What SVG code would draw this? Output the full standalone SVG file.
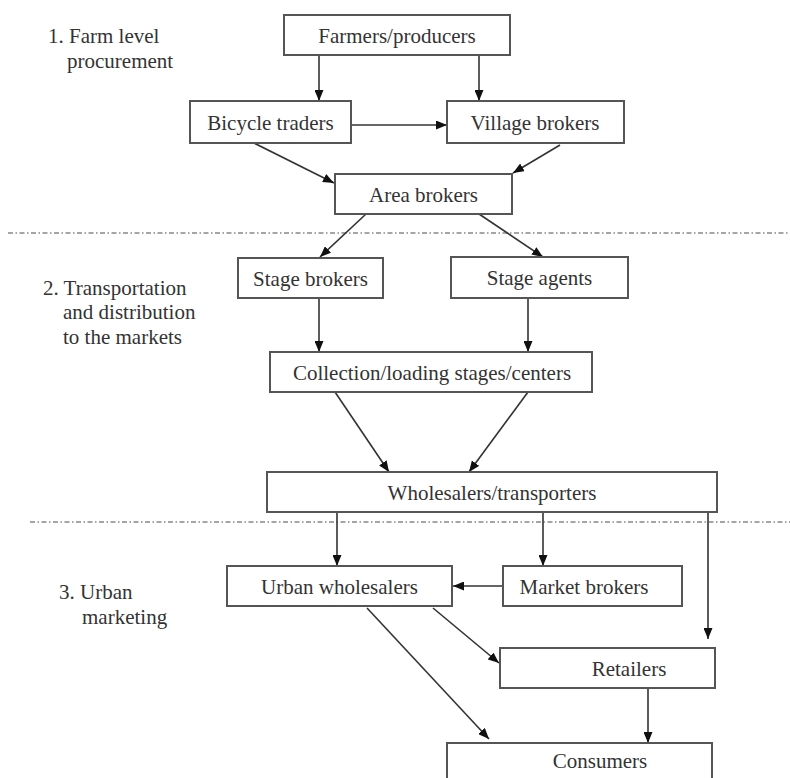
<svg xmlns="http://www.w3.org/2000/svg" width="790" height="778" viewBox="0 0 790 778">
<style>
.box{fill:#fff;stroke:#555;stroke-width:2}
.t{font-family:"Liberation Serif","Times New Roman",Times,"DejaVu Serif",serif;font-size:21px;fill:#333;text-anchor:middle}
.lbl{font-family:"Liberation Serif","Times New Roman",Times,"DejaVu Serif",serif;font-size:21px;fill:#333}
.c{stroke:#333;stroke-width:1.6;fill:none;marker-end:url(#ah)}
.sep{stroke:#888;stroke-width:1.5;stroke-dasharray:5 2.5 1.5 2.5;fill:none}
</style>
<defs>
<marker id="ah" markerWidth="11" markerHeight="9" refX="11" refY="4.5" orient="auto" markerUnits="userSpaceOnUse">
<path d="M0,0 L11,4.5 L0,9 z" fill="#111"/>
</marker>
</defs>
<rect width="790" height="778" fill="#fff"/>
<g id="separators">
<line class="sep" x1="8" y1="233" x2="790" y2="233"/>
<line class="sep" x1="30" y1="522" x2="790" y2="522"/>
</g>
<g id="section-labels">
<text class="lbl" x="48" y="43">1. Farm level</text>
<text class="lbl" x="67" y="68">procurement</text>
<text class="lbl" x="43" y="295">2. Transportation</text>
<text class="lbl" x="63" y="319">and distribution</text>
<text class="lbl" x="63" y="344">to the markets</text>
<text class="lbl" x="59" y="599">3. Urban</text>
<text class="lbl" x="82" y="624">marketing</text>
</g>
<g id="connectors">
<line class="c" x1="319" y1="55" x2="319" y2="101"/>
<line class="c" x1="479" y1="55" x2="479" y2="101"/>
<line class="c" x1="351" y1="125" x2="447" y2="125"/>
<line class="c" x1="254" y1="143" x2="334" y2="183"/>
<line class="c" x1="560" y1="145" x2="513" y2="173"/>
<line class="c" x1="366" y1="214" x2="320" y2="257"/>
<line class="c" x1="479" y1="214" x2="543" y2="257"/>
<line class="c" x1="319" y1="298" x2="319" y2="352"/>
<line class="c" x1="528" y1="298" x2="528" y2="352"/>
<line class="c" x1="335" y1="392" x2="389" y2="472"/>
<line class="c" x1="528" y1="392" x2="469" y2="472"/>
<line class="c" x1="337" y1="512" x2="337" y2="566"/>
<line class="c" x1="543" y1="512" x2="543" y2="566"/>
<line class="c" x1="708" y1="512" x2="708" y2="639"/>
<line class="c" x1="503" y1="586" x2="453" y2="586"/>
<line class="c" x1="433" y1="608" x2="499" y2="663"/>
<line class="c" x1="367" y1="608" x2="489" y2="739"/>
<line class="c" x1="648" y1="688" x2="648" y2="743"/>
</g>
<g id="farmers"><rect class="box" x="284" y="15" width="226" height="40"/><text class="t" x="397" y="43">Farmers/producers</text></g>
<g id="bicycle-traders"><rect class="box" x="190" y="101" width="161" height="42"/><text class="t" x="270.5" y="130">Bicycle traders</text></g>
<g id="village-brokers"><rect class="box" x="447" y="101" width="177" height="42"/><text class="t" x="535" y="130">Village brokers</text></g>
<g id="area-brokers"><rect class="box" x="335" y="174" width="177" height="40"/><text class="t" x="423.5" y="202">Area brokers</text></g>
<g id="stage-brokers"><rect class="box" x="238" y="258" width="145" height="40"/><text class="t" x="310.5" y="286">Stage brokers</text></g>
<g id="stage-agents"><rect class="box" x="451" y="257" width="177" height="41"/><text class="t" x="539.5" y="285">Stage agents</text></g>
<g id="collection"><rect class="box" x="270" y="352" width="322" height="40"/><text class="t" x="432" y="380">Collection/loading stages/centers</text></g>
<g id="wholesalers-transporters"><rect class="box" x="267" y="472" width="450" height="40"/><text class="t" x="492" y="500">Wholesalers/transporters</text></g>
<g id="urban-wholesalers"><rect class="box" x="227" y="566" width="225" height="40"/><text class="t" x="339.5" y="594">Urban wholesalers</text></g>
<g id="market-brokers"><rect class="box" x="503" y="566" width="179" height="40"/><text class="t" x="584" y="594">Market brokers</text></g>
<g id="retailers"><rect class="box" x="500" y="648" width="215" height="40"/><text class="t" x="629" y="676">Retailers</text></g>
<g id="consumers"><rect class="box" x="447" y="743" width="265" height="50"/><text class="t" x="600" y="768">Consumers</text></g>
</svg>
